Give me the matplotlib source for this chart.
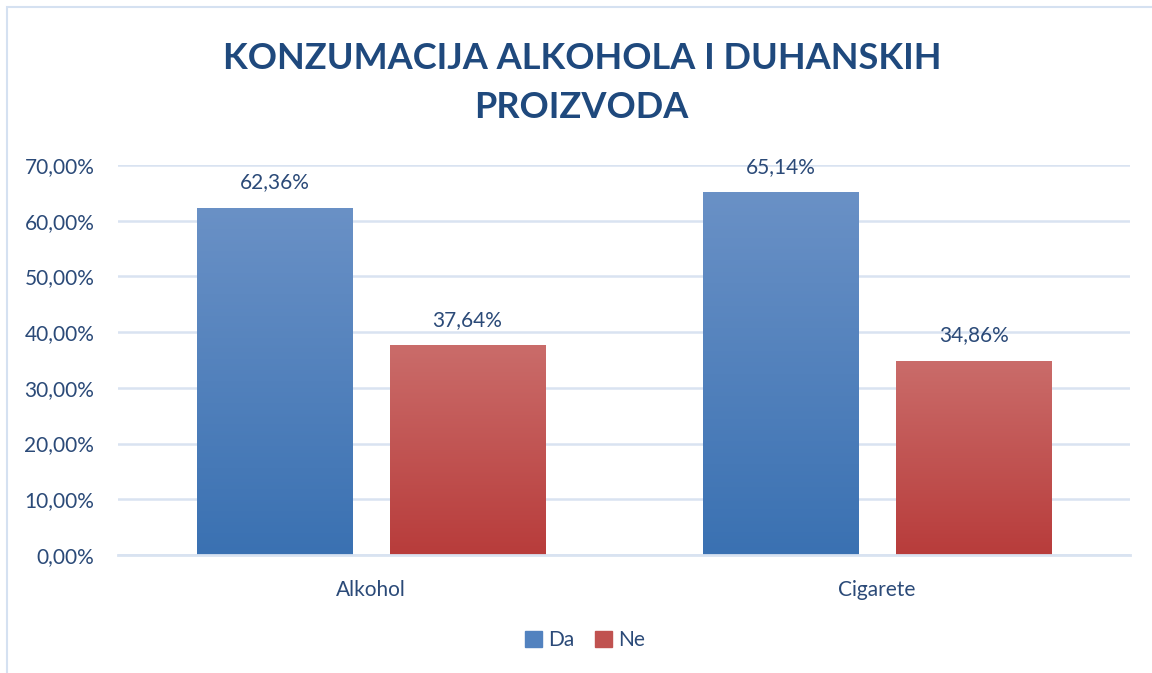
import matplotlib.pyplot as plt
import matplotlib.patches as mpatches
from matplotlib.colors import LinearSegmentedColormap
import numpy as np

categories = ["Alkohol", "Cigarete"]
series_names = ["Da", "Ne"]
da_values = [62.36, 65.14]
ne_values = [37.64, 34.86]
y_ticks = [0, 10, 20, 30, 40, 50, 60, 70]

title_color = "#1f497d"
text_color = "#2b4a78"
grid_color = "#d9e3f1"
blue_top, blue_bot = "#6a91c6", "#3a71b2"
red_top, red_bot = "#ca6c6a", "#b83c3b"

plt.rcParams['font.family'] = ['Lato', 'DejaVu Sans']

fig = plt.figure(figsize=(11.52, 6.73), dpi=100)
ax = fig.add_axes([0.1024, 0.1753, 0.8786, 0.5795])

# outer frame
fig.patches.append(mpatches.Rectangle((7 / 1152, -0.05), 1.1, 1 - 7 / 673 + 0.05,
                                      transform=fig.transFigure, fill=False,
                                      edgecolor="#d5e1f1", linewidth=1.5))

x = np.arange(len(categories))
w = 0.308
off = 0.1907

def grad_bars(xpos, vals, top, bot):
    bars = ax.bar(xpos, vals, w, color=bot, zorder=3)
    cmap = LinearSegmentedColormap.from_list("g", [bot, top])
    grad = np.linspace(0, 1, 256).reshape(-1, 1)
    for b in bars:
        x0, y0 = b.get_x(), b.get_y()
        im = ax.imshow(grad, cmap=cmap, origin="lower", aspect="auto",
                       extent=[x0, x0 + b.get_width(), y0, y0 + b.get_height()],
                       zorder=4)
        im.set_clip_path(b)
    return bars

b1 = grad_bars(x - off, da_values, blue_top, blue_bot)
b2 = grad_bars(x + off, ne_values, red_top, red_bot)

for bars, vals in [(b1, da_values), (b2, ne_values)]:
    for b, v in zip(bars, vals):
        ax.annotate(f"{v:.2f}%".replace(".", ","),
                    (b.get_x() + b.get_width() / 2, v),
                    xytext=(0, 11), textcoords="offset points",
                    ha="center", va="bottom", fontsize=15, color=text_color)

ax.set_xlim(-0.5, 1.5)
ax.set_ylim(0, 70)
ax.set_yticks(y_ticks)
ax.set_yticklabels([f"{t:.2f}%".replace(".", ",") for t in y_ticks],
                   fontsize=15, color=text_color)
ax.set_xticks(x)
ax.set_xticklabels(categories, fontsize=15, color=text_color)
ax.tick_params(axis="both", length=0)
ax.tick_params(axis="y", pad=17)
ax.tick_params(axis="x", pad=18)

ax.grid(axis="y", color=grid_color, linewidth=1.8, zorder=0)
ax.set_axisbelow(True)
for s in ["top", "right", "left"]:
    ax.spines[s].set_visible(False)
ax.spines["bottom"].set_color(grid_color)
ax.spines["bottom"].set_linewidth(2)
ax.spines["bottom"].set_zorder(5)

fig.text(0.505, 0.913, "KONZUMACIJA ALKOHOLA I DUHANSKIH", ha="center", va="center",
         fontsize=26, fontweight="bold", color=title_color)
fig.text(0.505, 0.840, "PROIZVODA", ha="center", va="center",
         fontsize=26, fontweight="bold", color=title_color)

handles = [mpatches.Patch(color="#5282bf", label=series_names[0]),
           mpatches.Patch(color="#c05250", label=series_names[1])]
leg = fig.legend(handles=handles, loc="center", bbox_to_anchor=(0.508, 0.049),
                 ncol=2, frameon=False, fontsize=15, handlelength=0.8,
                 handleheight=0.8, handletextpad=0.3, columnspacing=1.0)
for t in leg.get_texts():
    t.set_color(text_color)

fig.savefig("out.png", dpi=100)
